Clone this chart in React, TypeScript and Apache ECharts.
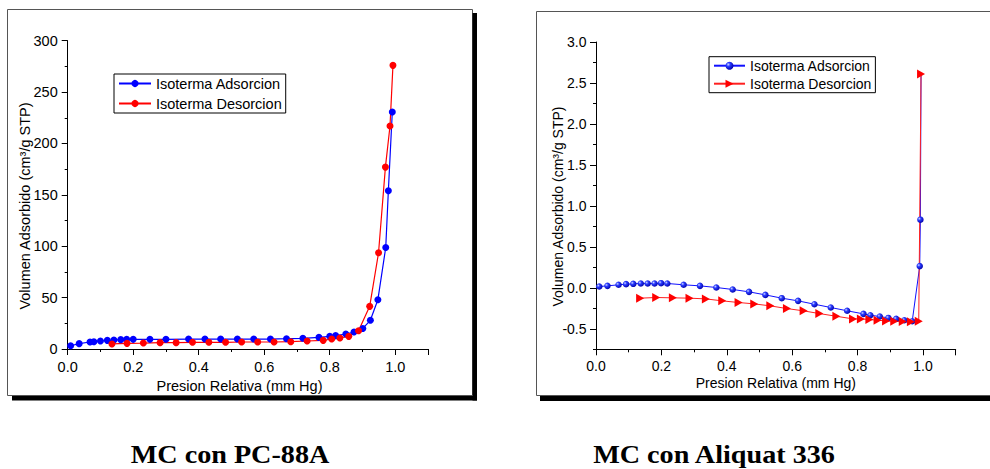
import React, { useEffect, useRef } from "react";
import * as echarts from "echarts";

const FONT = '"Liberation Sans", Arial, sans-serif';
const SERIF = '"Liberation Serif", "Times New Roman", serif';

// ---- Chart 1: MC con PC-88A ----
const pcAdsX = [0.009, 0.035, 0.068, 0.08, 0.1, 0.121, 0.141, 0.162, 0.18, 0.2, 0.251, 0.3, 0.369, 0.419, 0.467, 0.518, 0.568, 0.619, 0.668, 0.718, 0.767, 0.8, 0.818, 0.849, 0.874, 0.901, 0.924, 0.947, 0.971, 0.979, 0.991];
const pcAdsY = [3.2, 5.2, 6.8, 7.1, 7.8, 8.4, 8.7, 9.1, 9.4, 9.4, 9.4, 9.4, 9.7, 9.7, 9.7, 9.7, 9.7, 9.7, 10.0, 10.4, 11.3, 12.3, 13.0, 14.6, 16.5, 20.0, 27.9, 48.0, 98.8, 154.0, 230.6];
const pcDesX = [0.993, 0.984, 0.97, 0.949, 0.922, 0.888, 0.858, 0.831, 0.806, 0.78, 0.731, 0.681, 0.63, 0.58, 0.531, 0.482, 0.431, 0.381, 0.331, 0.282, 0.231, 0.181, 0.135];
const pcDesY = [276, 217, 177, 93.6, 41.5, 17.8, 12.3, 10.7, 9.7, 8.4, 7.8, 7.1, 6.8, 6.8, 6.8, 6.5, 6.5, 6.5, 6.2, 6.2, 5.8, 5.5, 4.9];

// ---- Chart 2: MC con Aliquat 336 ----
const aqAdsX = [0.01, 0.035, 0.069, 0.092, 0.114, 0.137, 0.158, 0.179, 0.199, 0.218, 0.268, 0.318, 0.368, 0.418, 0.468, 0.518, 0.568, 0.618, 0.668, 0.718, 0.768, 0.818, 0.839, 0.868, 0.894, 0.918, 0.943, 0.967, 0.99, 0.992, 0.994];
const aqAdsY = [0.016, 0.024, 0.037, 0.045, 0.049, 0.053, 0.053, 0.053, 0.057, 0.053, 0.037, 0.024, 0.004, -0.02, -0.049, -0.086, -0.126, -0.159, -0.2, -0.24, -0.28, -0.318, -0.334, -0.35, -0.367, -0.379, -0.395, -0.408, 0.265, 0.832, 2.61];
const aqDesX = [0.994, 0.987, 0.963, 0.938, 0.912, 0.887, 0.861, 0.836, 0.81, 0.786, 0.735, 0.683, 0.635, 0.584, 0.533, 0.484, 0.436, 0.386, 0.336, 0.286, 0.235, 0.184, 0.135];
const aqDesY = [2.61, -0.408, -0.414, -0.412, -0.408, -0.404, -0.395, -0.387, -0.379, -0.379, -0.347, -0.314, -0.281, -0.253, -0.22, -0.196, -0.179, -0.159, -0.135, -0.126, -0.122, -0.118, -0.126];

// ---- Axis ticks ----
const xMajorTicks = [0, 0.2, 0.4, 0.6, 0.8, 1.0, 1.1];
const xTickLabels = [0, 0.2, 0.4, 0.6, 0.8, 1.0];
const xMinorTicks = [0.1, 0.3, 0.5, 0.7, 0.9];
const pcYMajor = [0, 50, 100, 150, 200, 250, 300];
const pcYMinor = [25, 75, 125, 175, 225, 275];
const aqYMajor = [-0.5, 0, 0.5, 1.0, 1.5, 2.0, 2.5, 3.0];
const aqYMinor = [-0.75, -0.25, 0.25, 0.75, 1.25, 1.75, 2.25, 2.75];

const seriesNames = ["Isoterma Adsorcion", "Isoterma Desorcion"];
const xTitle = "Presion Relativa (mm Hg)";
const yTitle = "Volumen Adsorbido (cm³/g STP)";
const captions = ["MC con PC-88A", "MC con Aliquat 336"];

const zip = (xs: number[], ys: number[]) => xs.map((x, i) => [x, ys[i]]);

function axisPair(
  isX: boolean,
  min: number,
  max: number,
  major: number[],
  labels: number[],
  minor: number[],
  fmt: (v: number) => string,
  fontSize: number,
  margin: number
) {
  const position = isX ? "bottom" : "left";
  const main = {
    type: "value",
    min,
    max,
    position,
    axisLine: { show: true, onZero: false, lineStyle: { color: "#000", width: 1 } },
    axisTick: { show: true, inside: false, length: 6, customValues: major, lineStyle: { color: "#000", width: 1 } },
    axisLabel: {
      show: true,
      customValues: labels,
      margin,
      formatter: (v: number) => fmt(v),
      color: "#000",
      fontSize,
      fontFamily: FONT,
    },
    splitLine: { show: false },
  };
  const minorAxis = {
    type: "value",
    min,
    max,
    position,
    axisLine: { show: false, onZero: false },
    axisTick: { show: true, inside: false, length: 3, customValues: minor, lineStyle: { color: "#000", width: 1 } },
    axisLabel: { show: false },
    splitLine: { show: false },
  };
  return [main, minorAxis];
}

function textEl(text: string, x: number, y: number, fontSize: number, rotation = 0) {
  return {
    type: "text",
    x,
    y,
    rotation,
    style: {
      text,
      fill: "#000",
      fontSize,
      fontFamily: FONT,
      align: "center",
      verticalAlign: "middle",
    },
  };
}

function captionEl(text: string, x: number) {
  return {
    type: "text",
    x,
    y: 454.5,
    scaleX: 1.15,
    style: {
      text,
      fill: "#000",
      fontSize: 24.5,
      fontWeight: "bold",
      fontFamily: SERIF,
      align: "center",
      verticalAlign: "middle",
    },
  };
}

function leftOption() {
  const [xm, xn] = axisPair(true, 0, 1.1, xMajorTicks, xTickLabels, xMinorTicks, (v) => v.toFixed(1), 14.5, 10);
  const [ym, yn] = axisPair(false, 0, 300, pcYMajor, pcYMajor, pcYMinor, (v) => String(Math.round(v)), 14.5, 10);
  return {
    animation: false,
    grid: { left: 67.7, top: 40.7, width: 360.3, height: 308.3, containLabel: false },
    xAxis: [xm, xn],
    yAxis: [ym, yn],
    legend: {
      show: true,
      orient: "vertical",
      left: 114,
      top: 74,
      itemWidth: 32,
      itemHeight: 9,
      itemGap: 5,
      padding: [2, 4, 2, 4],
      borderColor: "#000",
      borderWidth: 1,
      backgroundColor: "#fff",
      selectedMode: false,
      textStyle: { fontSize: 14.5, fontFamily: FONT, color: "#000" },
      data: seriesNames,
    },
    series: [
      {
        name: seriesNames[0],
        type: "line",
        xAxisIndex: 0,
        yAxisIndex: 0,
        data: zip(pcAdsX, pcAdsY),
        symbol: "circle",
        symbolSize: 7,
        showAllSymbol: true,
        itemStyle: { color: "#0000ff" },
        lineStyle: { color: "#0000ff", width: 1.2 },
      },
      {
        name: seriesNames[1],
        type: "line",
        xAxisIndex: 0,
        yAxisIndex: 0,
        data: zip(pcDesX, pcDesY),
        symbol: "circle",
        symbolSize: 7,
        showAllSymbol: true,
        itemStyle: { color: "#ff0000" },
        lineStyle: { color: "#ff0000", width: 1.2 },
      },
    ],
    graphic: [
      { type: "rect", shape: { x: 7.5, y: 9.5, width: 465, height: 386 }, style: { fill: "none", stroke: "#555", lineWidth: 1 } },
      { type: "rect", shape: { x: 472.5, y: 13, width: 4.5, height: 387.5 }, style: { fill: "#000" } },
      { type: "rect", shape: { x: 12, y: 396, width: 465, height: 4.5 }, style: { fill: "#000" } },
      textEl(xTitle, 239.5, 386, 14.5),
      textEl(yTitle, 25, 206, 14.5, Math.PI / 2),
      captionEl(captions[0], 230),
    ],
  };
}

function rightOption() {
  const [xm, xn] = axisPair(true, 0, 1.1, xMajorTicks, xTickLabels, xMinorTicks, (v) => v.toFixed(1), 14, 10);
  const [ym, yn] = axisPair(false, -0.75, 3.0, aqYMajor, aqYMajor, aqYMinor, (v) => v.toFixed(1), 14, 9.5);
  const blueBall = new echarts.graphic.RadialGradient(0.35, 0.35, 0.7, [
    { offset: 0, color: "#d0d8ff" },
    { offset: 0.35, color: "#2a3cff" },
    { offset: 1, color: "#0000a8" },
  ]);
  const adsData = zip(aqAdsX, aqAdsY).map((p, i, arr) =>
    i === arr.length - 1 ? { value: p, symbol: "none" } : p
  );
  return {
    animation: false,
    grid: { left: 101, top: 42, width: 359.7, height: 307.3, containLabel: false },
    xAxis: [xm, xn],
    yAxis: [ym, yn],
    legend: {
      show: true,
      orient: "vertical",
      left: 214,
      top: 56.7,
      itemWidth: 31,
      itemHeight: 10,
      itemGap: 4,
      padding: [2, 4, 2, 4],
      borderColor: "#000",
      borderWidth: 1,
      backgroundColor: "#fff",
      selectedMode: false,
      textStyle: { fontSize: 14, fontFamily: FONT, color: "#000" },
      data: seriesNames,
    },
    series: [
      {
        name: seriesNames[0],
        type: "line",
        xAxisIndex: 0,
        yAxisIndex: 0,
        data: adsData,
        symbol: "circle",
        symbolSize: 6.5,
        showAllSymbol: true,
        itemStyle: { color: blueBall },
        lineStyle: { color: "#1010ff", width: 1 },
      },
      {
        name: seriesNames[1],
        type: "line",
        xAxisIndex: 0,
        yAxisIndex: 0,
        data: zip(aqDesX, aqDesY),
        symbol: "path://M0,0L10,5L0,10Z",
        symbolSize: [8, 9],
        showAllSymbol: true,
        itemStyle: { color: "#ff0000" },
        lineStyle: { color: "#ff2020", width: 1 },
      },
    ],
    graphic: [
      { type: "rect", shape: { x: 41.5, y: 11.5, width: 480, height: 384 }, style: { fill: "none", stroke: "#555", lineWidth: 1 } },
      { type: "rect", shape: { x: 45, y: 396, width: 480, height: 5 }, style: { fill: "#000" } },
      textEl(xTitle, 280.8, 383, 14),
      textEl(yTitle, 62.5, 206.5, 14, Math.PI / 2),
      captionEl(captions[1], 219),
    ],
  };
}

export default function App() {
  const leftRef = useRef<HTMLDivElement>(null);
  const rightRef = useRef<HTMLDivElement>(null);

  useEffect(() => {
    const l = echarts.init(leftRef.current!, null, { renderer: "svg" });
    l.setOption(leftOption() as any);
    const r = echarts.init(rightRef.current!, null, { renderer: "svg" });
    r.setOption(rightOption() as any);
    return () => {
      l.dispose();
      r.dispose();
    };
  }, []);

  return (
    <div style={{ position: "fixed", left: 0, top: 0, width: 990, height: 469, background: "#fff", overflow: "hidden" }}>
      <div ref={leftRef} style={{ position: "absolute", left: 0, top: 0, width: 495, height: 469 }} />
      <div ref={rightRef} style={{ position: "absolute", left: 495, top: 0, width: 495, height: 469 }} />
    </div>
  );
}
